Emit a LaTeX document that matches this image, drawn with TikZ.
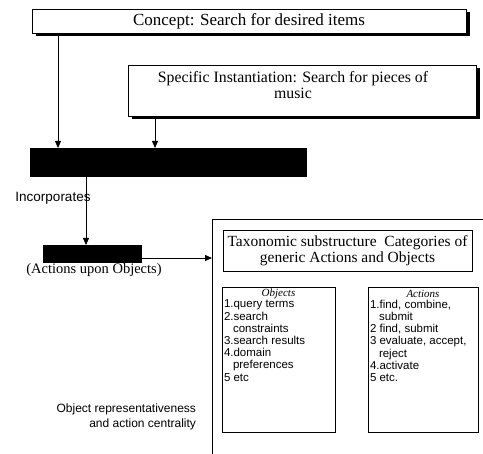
\documentclass[tikz,border=0pt]{standalone}
\usepackage{fontspec}
\setmainfont{Liberation Serif}
\setsansfont{Liberation Sans}
\usetikzlibrary{arrows.meta,shadows}
\begin{document}
\begin{tikzpicture}[x=1pt,y=-1pt,
  inner sep=0pt, outer sep=0pt,
  shbox/.style={draw, line width=0.8pt, fill=white,
    drop shadow={shadow xshift=3.5pt, shadow yshift=-3.5pt, fill=black, opacity=1}},
  plainbox/.style={draw, line width=0.7pt},
  blackbox/.style={fill=black, draw=black},
  arr/.style={-{Triangle[length=7pt,width=6pt]}, line width=0.8pt},
  itemtext/.style={anchor=north west, align=left, font=\sffamily\fontsize{11.5}{12.2}\selectfont},
  headtext/.style={font=\itshape\fontsize{11}{12}\selectfont}]
\clip (0,0) rectangle (483,454);
\fill[white] (0,0) rectangle (483,454);
\coordinate (x58) at (58,0);
\coordinate (x155) at (155,0);
\coordinate (x86) at (86,0);
\coordinate (ya) at (0,258);

\node[shbox, minimum width=434pt, minimum height=24pt, anchor=north west,
  font=\fontsize{17}{19}\selectfont] (concept) at (32,9) {Concept: Search for desired items};
\node[shbox, minimum width=348pt, minimum height=51pt, anchor=north west] (spec) at (128,65) {};
\node[align=center, font=\fontsize{15.8}{16.5}\selectfont] (spect) at (293,85)
  {Specific Instantiation: Search for pieces of\\music};

\node[blackbox, minimum width=276pt, minimum height=28pt, anchor=north west] (b1) at (30,148) {};
\draw[arr] (concept.south -| x58) -- (b1.north -| x58);
\draw[arr] (spec.south -| x155) -- (b1.north -| x155);

\node[font=\sffamily\fontsize{13.5}{15}\selectfont] (inc) at (53,198) {Incorporates};
\node[blackbox, minimum width=98pt, minimum height=17pt, anchor=north west] (b2) at (43,245) {};
\draw[arr] (b1.south -| x86) -- (b2.north -| x86);
\node[font=\fontsize{14.5}{16}\selectfont] (aup) at (94,270) {(Actions upon Objects)};

\node[plainbox, minimum width=300pt, minimum height=260pt, anchor=north west] (big) at (212,219) {};
\draw[arr] (b2.east |- ya) -- (big.west |- ya);

\node[plainbox, minimum width=249pt, minimum height=41pt, anchor=north west, align=center,
  font=\fontsize{15.5}{16}\selectfont] (tax) at (223,230) {Taxonomic substructure\ \ Categories of\\generic Actions and Objects};

\node[plainbox, minimum width=113pt, minimum height=145pt, anchor=north west] (obj) at (222,287) {};
\node[headtext] (objh) at ([yshift=-7pt]obj.north) {Objects};
\node[itemtext] (objl) at ([xshift=2pt,yshift=-13pt]obj.north west)
  {1.query terms\\2.search\\\hspace*{9pt}constraints\\3.search results\\4.domain\\\hspace*{9pt}preferences\\5 etc};

\node[plainbox, minimum width=110pt, minimum height=145pt, anchor=north west] (act) at (368,287) {};
\node[headtext] (acth) at ([yshift=-7pt]act.north) {Actions};
\node[itemtext] (actl) at ([xshift=2pt,yshift=-13pt]act.north west)
  {1.find, combine,\\\hspace*{9pt}submit\\2 find, submit\\3 evaluate, accept,\\\hspace*{9pt}reject\\4.activate\\5 etc.};

\node[anchor=east, align=right, font=\sffamily\fontsize{12}{15}\selectfont] (orep) at (196,417)
  {Object representativeness\\and action centrality};
\end{tikzpicture}
\end{document}
